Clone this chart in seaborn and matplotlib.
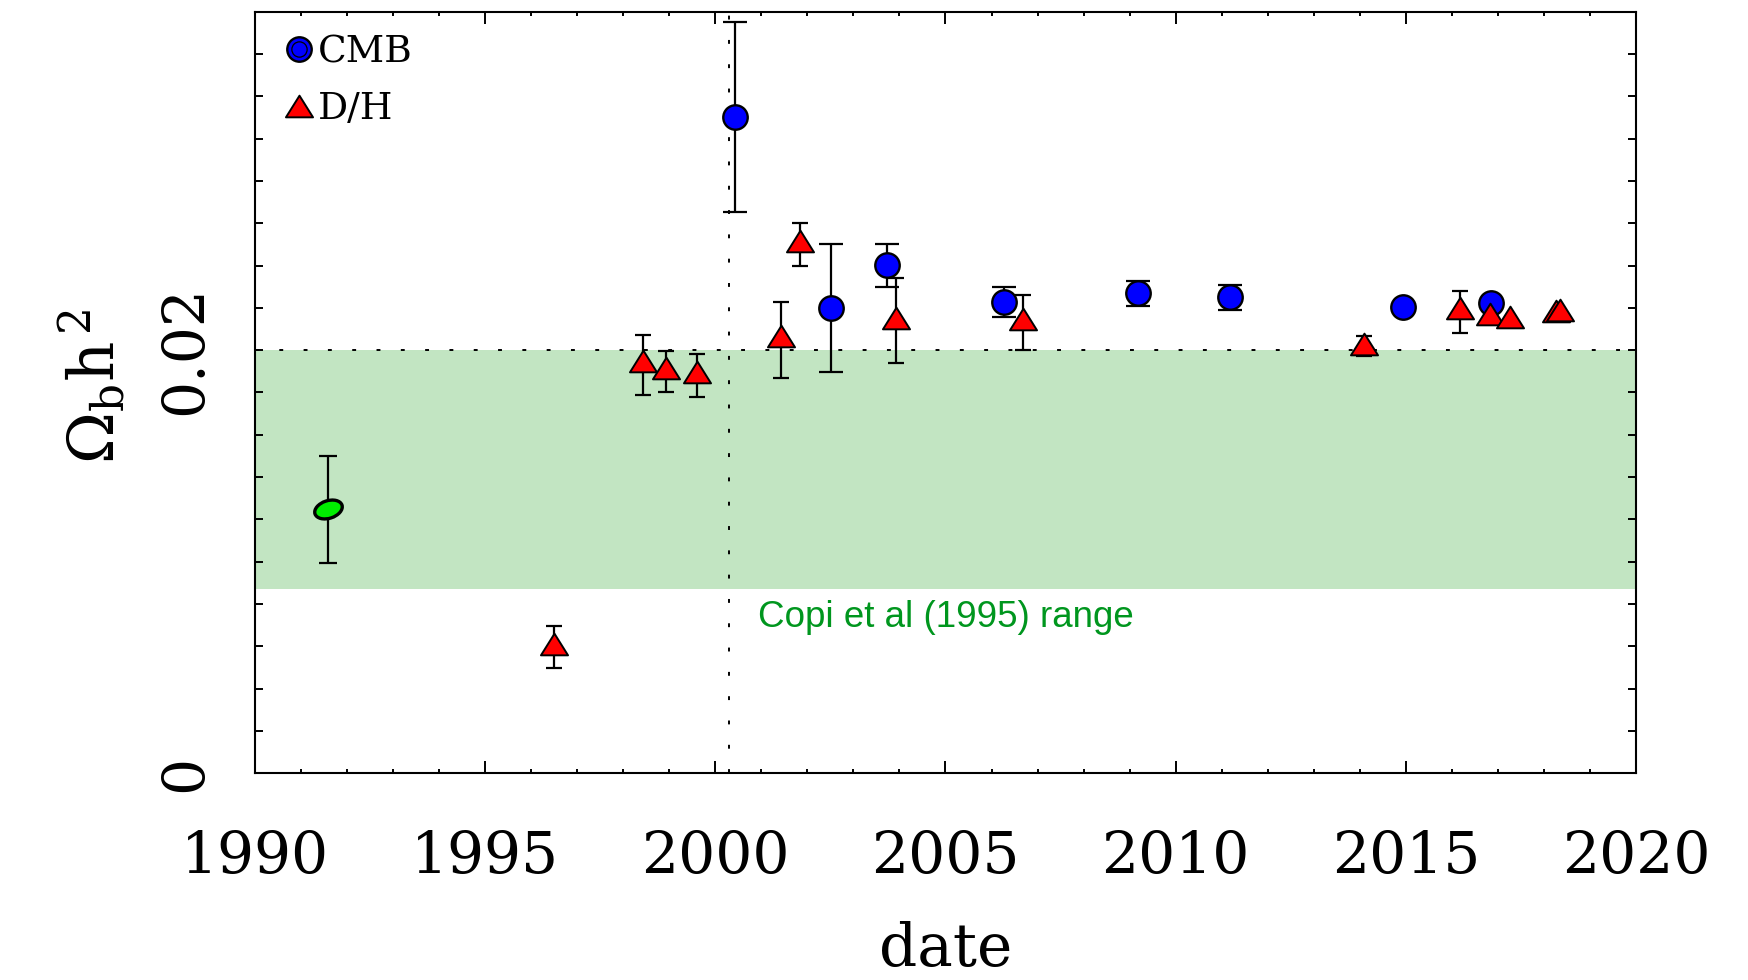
import numpy as np
import pandas as pd
import matplotlib
matplotlib.use("Agg")
import matplotlib.pyplot as plt
import seaborn as sns
from matplotlib.path import Path
from matplotlib.transforms import Affine2D
from matplotlib.lines import Line2D
from matplotlib.legend_handler import HandlerTuple
from matplotlib.ticker import MultipleLocator, FixedLocator

# --- measurements of the baryon density, Omega_b h^2, by publication date ---
cmb_year = [2000.43, 2002.51, 2003.73, 2006.27, 2009.19, 2011.18, 2014.93, 2016.85]
cmb_val = [0.03102, 0.02200, 0.02402, 0.02228, 0.02268, 0.02249, 0.02205, 0.02225]
cmb_lo = [0.02652, 0.01897, 0.02299, 0.02157, 0.02208, 0.02192, np.nan, np.nan]
cmb_hi = [0.03551, 0.02501, 0.02501, 0.02299, 0.02326, 0.02307, np.nan, np.nan]

dh_year = [1996.50, 1998.42, 1998.92, 1999.60, 2001.43, 2001.85, 2003.93,
           2006.69, 2014.09, 2016.18, 2016.84, 2017.26, 2018.26, 2018.34]
dh_val = [0.00612, 0.01947, 0.01915, 0.01895, 0.02066, 0.02517, 0.02154,
          0.02145, 0.02030, 0.02197, 0.02173, 0.02157, 0.02183, 0.02192]
dh_lo = [0.00496, 0.01789, 0.01800, 0.01779, 0.01868, 0.02398, 0.01940,
         0.01999, 0.01972, 0.02080, np.nan, np.nan, np.nan, np.nan]
dh_hi = [0.00696, 0.02071, 0.01997, 0.01981, 0.02228, 0.02599, 0.02339,
         0.02260, 0.02066, 0.02279, np.nan, np.nan, np.nan, np.nan]

bbn_year = [1991.58]
bbn_val = [0.01249]
bbn_lo = [0.00995]
bbn_hi = [0.01499]

copi_low, copi_high = 0.0087, 0.0200
reference_date = 2000.30

x_ticks = [1990, 1995, 2000, 2005, 2010, 2015, 2020]
y_ticks = [0.0, 0.02]
y_tick_labels = ["0", "0.02"]

cmb = pd.DataFrame({"year": cmb_year, "omega": cmb_val, "lo": cmb_lo, "hi": cmb_hi})
dh = pd.DataFrame({"year": dh_year, "omega": dh_val, "lo": dh_lo, "hi": dh_hi})
bbn = pd.DataFrame({"year": bbn_year, "omega": bbn_val, "lo": bbn_lo, "hi": bbn_hi})

# --- style ---
sns.set_style("ticks")
plt.rcParams["font.family"] = ["DejaVu Serif"]
plt.rcParams["mathtext.fontset"] = "dejavuserif"
plt.rcParams["axes.linewidth"] = 1.5
for key in ("text.color", "axes.labelcolor", "xtick.color", "ytick.color",
            "axes.edgecolor"):
    plt.rcParams[key] = "black"

# marker shapes: a flattened triangle and a tilted ellipse
tri_marker = Path([(0, 0.8), (-1, -0.8), (1, -0.8), (0, 0.8)], closed=True)
ell_marker = Affine2D().scale(1.0, 0.62).rotate_deg(18).transform_path(Path.unit_circle())

fig = plt.figure(figsize=(17.48, 9.80), dpi=100)
ax = fig.add_axes([0.1459, 0.2109, 0.7900, 0.7772])

# shaded range and reference lines
ax.axhspan(copi_low, copi_high, color="#c2e5c2", lw=0, zorder=0)
dots = (0, (2.0, 10.5))
ax.axhline(copi_high, color="black", lw=1.4, ls=dots, zorder=1)
ax.axvline(reference_date, color="black", lw=1.4, ls=dots, zorder=1)


def draw_errors(df, cap):
    ax.errorbar(df["year"], df["omega"],
                yerr=[df["omega"] - df["lo"], df["hi"] - df["omega"]],
                fmt="none", ecolor="black", elinewidth=1.6,
                capsize=cap, capthick=1.6, zorder=2)


draw_errors(bbn, 6.2)
draw_errors(cmb, 8.4)
draw_errors(dh, 5.7)

sns.scatterplot(data=bbn, x="year", y="omega", marker=ell_marker, s=420,
                color="#00ee00", edgecolor="black", linewidth=2.4,
                zorder=4, ax=ax, legend=False)
sns.scatterplot(data=cmb, x="year", y="omega", marker="o", s=310,
                color="#0000ff", edgecolor="black", linewidth=1.7,
                zorder=4, ax=ax, legend=False)
sns.scatterplot(data=dh, x="year", y="omega", marker=tri_marker, s=380,
                color="#ff0000", edgecolor="black", linewidth=1.4,
                zorder=5, ax=ax, legend=False)

ax.text(2000.93, 0.00738, "Copi et al (1995) range", color="#00961e",
        fontsize=26.5, family=["Liberation Sans", "DejaVu Sans"],
        ha="left", va="center")

# axes, ticks, labels
ax.set_xlim(1990, 2020)
ax.set_ylim(0, 0.036)
ax.xaxis.set_major_locator(FixedLocator(x_ticks))
ax.xaxis.set_minor_locator(MultipleLocator(1))
ax.yaxis.set_major_locator(FixedLocator(y_ticks))
ax.yaxis.set_minor_locator(MultipleLocator(0.002))
ax.set_yticklabels(y_tick_labels)

ax.tick_params(which="both", direction="in", top=True, right=True,
               width=1.4, color="black", labelcolor="black", labelsize=42)
ax.tick_params(axis="x", which="major", length=8.6, pad=40)
ax.tick_params(axis="x", which="minor", length=3.2)
ax.tick_params(axis="y", which="both", length=5.8, pad=30)
for lab in ax.get_yticklabels():
    lab.set_rotation(90)
    lab.set_va("center")

ax.set_xlabel("date", fontsize=43, labelpad=25)
ax.set_ylabel(r"$\Omega_{\mathrm{b}}\mathrm{h}^{\,2}$", fontsize=45)
ax.yaxis.set_label_coords(-0.092, 0.508)

for side in ax.spines.values():
    side.set_linewidth(1.5)
    side.set_color("black")
    side.set_visible(True)

# legend
cmb_handle = (Line2D([], [], ls="none", marker="o", ms=17.6, mfc="#0000ff",
                     mec="black", mew=1.7),
              Line2D([], [], ls="none", marker="o", ms=11, mfc="#0000ff",
                     mec="black", mew=0.9))
dh_handle = Line2D([], [], ls="none", marker=tri_marker, ms=19.5,
                   mfc="#ff0000", mec="black", mew=1.4)
ax.legend([cmb_handle, dh_handle], ["CMB", "D/H"],
          handler_map={tuple: HandlerTuple(ndivide=1)},
          loc="upper left", bbox_to_anchor=(0.0212, 0.970),
          frameon=False, fontsize=27, numpoints=1,
          handlelength=0.8, handletextpad=0.1, borderpad=0,
          borderaxespad=0, labelspacing=0.55)

fig.savefig("out.png", dpi=100)
